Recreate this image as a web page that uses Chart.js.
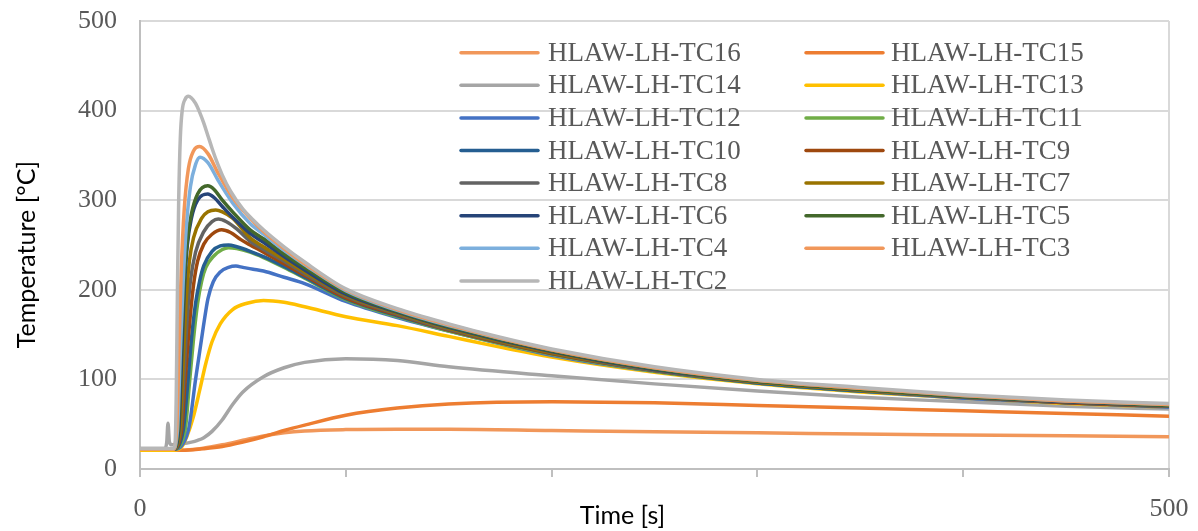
<!DOCTYPE html>
<html>
<head>
<meta charset="utf-8">
<script src="https://cdn.jsdelivr.net/npm/chart.js@4/dist/chart.umd.min.js"></script>
<style>
  html, body { margin: 0; padding: 0; background: #fff; }
  #chart { display: block; }
</style>
</head>
<body>
<canvas id="chart" width="1198" height="531"></canvas>
<script>
// series names, in legend order
const seriesNames = ['HLAW-LH-TC16', 'HLAW-LH-TC15', 'HLAW-LH-TC14', 'HLAW-LH-TC13', 'HLAW-LH-TC12',
    'HLAW-LH-TC11', 'HLAW-LH-TC10', 'HLAW-LH-TC9', 'HLAW-LH-TC8', 'HLAW-LH-TC7',
    'HLAW-LH-TC6', 'HLAW-LH-TC5', 'HLAW-LH-TC4', 'HLAW-LH-TC3', 'HLAW-LH-TC2'];

// time [s] / temperature [°C]
const timeTC16 = [0, 20, 30, 40, 50, 60, 70, 80, 100, 125, 150, 200, 250, 300, 350, 400, 450, 500];
const tempTC16 = [21, 21, 23, 27, 32, 37, 40.5, 42.5, 44, 44.5, 44.5, 43, 41.5, 40.5, 39, 38, 37, 36];

const timeTC15 = [0, 20, 30, 40, 50, 60, 70, 80, 100, 125, 150, 200, 250, 300, 350, 400, 450, 500];
const tempTC15 = [21, 21, 22.5, 25, 30, 36, 43, 49, 60, 68, 72.5, 75, 74, 71, 68, 65, 62, 59];

const timeTC14 = [0, 12, 13, 13.6, 14.3, 15.5, 20, 25, 28, 31, 35, 40, 45, 50, 60, 70, 80, 100, 125, 150, 200, 250, 300, 350, 400, 450, 500];
const tempTC14 = [23, 23, 30, 51, 30, 27, 28, 30, 32, 35, 42, 55, 72, 86, 103, 113, 119, 123, 121, 114, 104, 95, 87, 80, 75, 70, 67];

const timeTC13 = [0, 16, 20, 22.7, 25.9, 29, 32, 35, 39, 45, 52, 60, 70, 80, 100, 125, 150, 175, 200, 250, 300, 350, 400, 450, 500];
const tempTC13 = [21, 21, 24, 36, 58, 88, 118, 142, 162, 178, 185, 188, 186, 181, 170, 160, 148, 136, 125, 108, 95, 86, 79, 73, 69];

const timeTC12 = [0, 16, 23.5, 27, 30.8, 33, 35.6, 39, 43, 46.6, 50, 55, 60, 70, 80, 100, 125, 150, 200, 250, 300, 350, 400, 450, 500];
const tempTC12 = [22, 22, 43.5, 100, 159, 190, 209, 220, 225, 226.5, 225, 223, 221, 214, 207, 187, 169, 154, 127, 109, 96, 87, 79, 74, 69];

const timeTC11 = [0, 16, 21.9, 24, 26, 28, 30, 32, 36, 40, 43, 47, 53.5, 60, 70, 80, 100, 125, 150, 200, 250, 300, 350, 400, 450, 500];
const tempTC11 = [22, 22, 43, 95, 145, 185, 210, 225, 238, 245, 247, 246, 242, 236, 225, 213, 189, 170, 154, 128, 109, 96, 87, 80, 74, 70];

const timeTC10 = [0, 16, 21, 23, 25, 27, 29, 31, 35, 39, 43, 47, 53.5, 60, 70, 80, 100, 125, 150, 200, 250, 300, 350, 400, 450, 500];
const tempTC10 = [22, 22, 43, 90, 145, 185, 210, 227, 243, 249, 250, 248, 243, 237, 226, 214, 190, 171, 155, 129, 110, 96, 87, 80, 74, 70];

const timeTC9 = [0, 16, 20.2, 22, 24, 26, 28, 31, 35, 39.7, 44, 49, 53.5, 60, 70, 80, 100, 125, 150, 200, 250, 300, 350, 400, 450, 500];
const tempTC9 = [22, 22, 43, 100, 160, 205, 232, 251, 262, 267, 264, 256, 250, 242, 229, 216, 191, 172, 155, 129, 110, 97, 88, 80, 74, 70];

const timeTC8 = [0, 16, 19.7, 21.5, 23, 24.5, 27, 31, 35, 38, 42, 47, 53.5, 60, 70, 80, 100, 125, 150, 200, 250, 300, 350, 400, 450, 500];
const tempTC8 = [22, 22, 43, 110, 170, 210, 242, 265, 276, 279, 276, 268, 254, 245, 232, 218, 193, 173, 156, 130, 110, 97, 88, 80, 75, 70];

const timeTC7 = [0, 16, 19.4, 21, 22.5, 24, 26, 30, 33, 36.8, 40, 45, 53.5, 60, 70, 80, 100, 125, 150, 200, 250, 300, 350, 400, 450, 500];
const tempTC7 = [22, 22, 43, 120, 190, 232, 258, 280, 287, 289, 287, 280, 258, 248, 234, 220, 194, 174, 157, 130, 111, 97, 88, 81, 75, 71];

const timeTC6 = [0, 16, 18.8, 20.3, 21.5, 23, 25, 28, 32.9, 36, 40, 45, 53.5, 60, 70, 80, 100, 125, 150, 200, 250, 300, 350, 400, 450, 500];
const tempTC6 = [22, 22, 43, 130, 200, 250, 280, 300, 307, 303, 293, 281, 263, 253, 237, 222, 195, 175, 158, 131, 111, 98, 89, 81, 75, 71];

const timeTC5 = [0, 16, 18.5, 20, 21.3, 23, 25, 28, 32.9, 36, 40, 45, 53.5, 60, 70, 80, 100, 125, 150, 200, 250, 300, 350, 400, 450, 500];
const tempTC5 = [22, 22, 43, 140, 205, 255, 285, 307, 316, 312, 300, 287, 267, 257, 240, 225, 197, 176, 159, 132, 112, 98, 89, 81, 76, 71];

const timeTC4 = [0, 16, 18.2, 19.6, 21, 22.5, 24.5, 27, 29.2, 33, 38, 45, 53.5, 60, 70, 80, 100, 125, 150, 200, 250, 300, 350, 400, 450, 500];
const tempTC4 = [22, 22, 43, 130, 210, 270, 315, 340, 348, 342, 322, 297, 274, 262, 244, 228, 199, 177, 160, 133, 113, 99, 90, 82, 76, 72];

const timeTC3 = [0, 16, 17.8, 19, 20, 21.5, 23.5, 26, 29, 33, 38, 45, 53.5, 60, 70, 80, 100, 125, 150, 200, 250, 300, 350, 400, 450, 500];
const tempTC3 = [22, 22, 43, 140, 220, 290, 335, 355, 360, 352, 330, 303, 280, 265, 246, 229, 200, 178, 161, 133, 113, 99, 90, 82, 76, 72];

const timeTC2 = [0, 16, 17, 17.6, 18.2, 18.8, 19.6, 20.5, 22, 23.5, 25, 27, 29, 31, 33, 35, 37, 40, 44, 50, 55, 60, 70, 80, 100, 125, 150, 175, 200, 250, 300, 350, 400, 450, 500];
const tempTC2 = [23, 23, 27, 80, 200, 300, 370, 400, 413, 416, 414, 408, 398, 386, 372, 358, 345, 328, 310, 290, 278, 267, 248, 231, 201, 179, 162, 147, 134, 114, 100, 91, 83, 77, 73];

const seriesTimes = [timeTC16, timeTC15, timeTC14, timeTC13, timeTC12, timeTC11, timeTC10, timeTC9,
    timeTC8, timeTC7, timeTC6, timeTC5, timeTC4, timeTC3, timeTC2];
const seriesTemps = [tempTC16, tempTC15, tempTC14, tempTC13, tempTC12, tempTC11, tempTC10, tempTC9,
    tempTC8, tempTC7, tempTC6, tempTC5, tempTC4, tempTC3, tempTC2];

const xTicks = [0, 500];   // only these get a label

// Excel-style palette
const seriesColors = ['#F1975A', '#ED7D31', '#A5A5A5', '#FFC000', '#4472C4', '#70AD47', '#255E91', '#9E480E',
    '#636363', '#997300', '#264478', '#43682B', '#7CAFDD', '#F1975A', '#B7B7B7'];

const serifFont = "'Liberation Serif', 'Times New Roman', serif";
const sansFont = "Lato, 'Open Sans', sans-serif";

// legend drawn inside the plot, two columns like the original
const insideLegend = {
    id: 'insideLegend',
    afterDatasetsDraw(chart) {
        const ctx = chart.ctx;
        const area = chart.chartArea;
        ctx.save();
        ctx.font = '27px ' + serifFont;
        ctx.textBaseline = 'middle';
        ctx.fillStyle = '#595959';
        chart.data.datasets.forEach((ds, i) => {
            const col = i % 2;
            const row = Math.floor(i / 2);
            const x0 = area.left + 321 + col * 345;
            const y = area.top + 31.7 + row * 32.6;
            ctx.strokeStyle = ds.borderColor;
            ctx.lineWidth = 3.5;
            ctx.lineCap = 'round';
            ctx.beginPath();
            ctx.moveTo(x0, y);
            ctx.lineTo(x0 + 77, y);
            ctx.stroke();
            ctx.fillText(ds.label, x0 + 87 - col * 2, y + 1);
        });
        ctx.restore();
    }
};

const datasets = seriesNames.map((name, i) => ({
    label: name,
    data: seriesTimes[i].map((t, j) => ({ x: t, y: seriesTemps[i][j] })),
    borderColor: seriesColors[i],
    backgroundColor: seriesColors[i],
    borderWidth: 3.5,
    pointRadius: 0,
    fill: false,
    cubicInterpolationMode: 'monotone',
    order: -i
}));

new Chart(document.getElementById('chart').getContext('2d'), {
    type: 'line',
    data: { datasets: datasets },
    options: {
        responsive: false,
        animation: false,
        devicePixelRatio: 1,
        layout: { padding: { top: 21, right: 29, left: 0, bottom: 0 } },
        plugins: {
            legend: { display: false },
            tooltip: { enabled: false }
        },
        scales: {
            x: {
                type: 'linear',
                min: 0,
                max: 500,
                afterFit(scale) {
                    scale.height = 62;
                    scale.paddingLeft = 0;
                    scale.paddingRight = 0;
                },
                ticks: {
                    stepSize: 100,
                    padding: 17,
                    color: '#595959',
                    font: { family: serifFont, size: 26 },
                    maxRotation: 0,
                    callback: v => xTicks.includes(v) ? String(v) : ''
                },
                grid: {
                    color: c => (c.tick && c.tick.value === 500) ? '#d9d9d9' : 'rgba(0,0,0,0)',
                    lineWidth: 2,
                    tickColor: '#bfbfbf',
                    tickLength: 8,
                    tickWidth: 2
                },
                border: { display: true, color: '#bfbfbf', width: 2 },
                title: {
                    display: true,
                    text: 'Time [s]          ',
                    color: '#000',
                    font: { family: sansFont, size: 25 },
                    padding: { top: 1, bottom: 0 }
                }
            },
            y: {
                min: 0,
                max: 500,
                afterFit(scale) {
                    scale.width = 140;
                    scale.paddingTop = 0;
                    scale.paddingBottom = 0;
                },
                ticks: {
                    stepSize: 100,
                    padding: 23,
                    color: '#595959',
                    font: { family: serifFont, size: 26 }
                },
                grid: {
                    color: '#d9d9d9',
                    lineWidth: 2,
                    drawTicks: false
                },
                border: { display: true, color: '#bfbfbf', width: 2 },
                title: {
                    display: true,
                    text: 'Temperature [°C]   ',
                    color: '#000',
                    font: { family: sansFont, size: 25 },
                    padding: { top: 12, bottom: 0 }
                }
            }
        }
    },
    plugins: [insideLegend]
});
</script>
</body>
</html>
